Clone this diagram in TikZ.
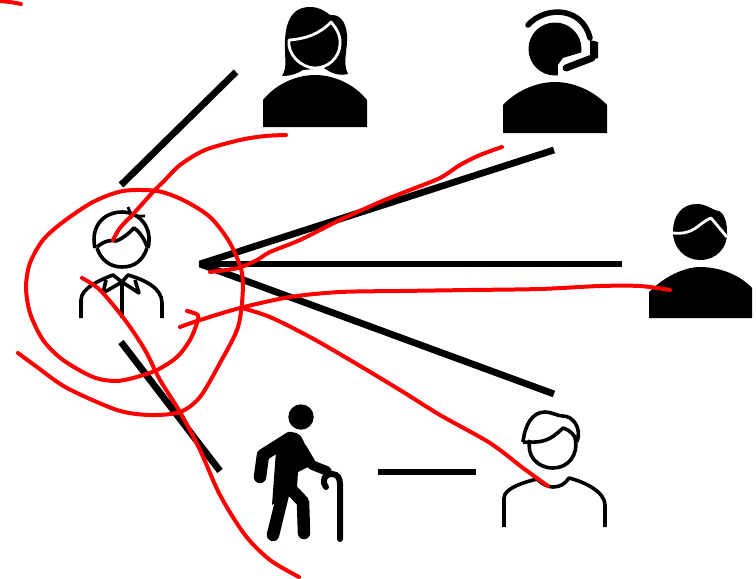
\documentclass[tikz,border=0pt]{standalone}
\usetikzlibrary{calc}
\definecolor{ScribbleClr}{rgb}{1,0,0}
\tikzset{
  spoke/.style={line width=6.8pt,color=black},
  outline/.style={line width=3.6pt,color=black,line cap=butt,line join=round},
  scribble/.style={line width=4pt,color=ScribbleClr,line cap=round,line join=round},
  cutline/.style={line width=2.8pt,color=white,line join=round}
}

\begin{document}
\begin{tikzpicture}[x=1pt,y=-1pt]
\useasboundingbox (0,0) rectangle (756,579);

% Define the free ends of the black lines.
\coordinate (Hub) at (200,264);
\coordinate (Sa) at (554,150);
\coordinate (Sb) at (622,264);
\coordinate (Sc) at (554,394);
\coordinate (Ta) at (121,185);
\coordinate (Tb) at (236,72);
\coordinate (Ua) at (121,342);
\coordinate (Ub) at (220,471);
\coordinate (Va) at (378,472);
\coordinate (Vb) at (476,472);

% Draw the black lines.
\draw[spoke,line join=bevel] (Sa) -- (Hub) -- (Sc);
\draw[spoke] (Hub) -- (Sb);
\draw[spoke] (Ta) -- (Tb);
\draw[spoke] (Ua) -- (Ub);
\draw[spoke] (Va) -- (Vb);

% The woman.
\fill (263,127) -- (263,100) .. controls (275,85) and (295,75) .. (315,75) .. controls (335,75) and (355,85) .. (367,100) -- (367,127) -- cycle;
\fill (282,76) .. controls (287,68) and (285,60) .. (285,50) .. controls (284,25) and (290,7) .. (310,7) .. controls (318,7) and (324,10) .. (330,15) .. controls (340,14) and (346,22) .. (347,35) .. controls (348,50) and (342,62) .. (348,74) .. controls (340,76) and (332,74) .. (324,68) -- (303,70) .. controls (297,74) and (290,76) .. (282,76) -- cycle;
\draw[cutline,fill=black] (289,40) .. controls (305,39) and (320,34) .. (331,22) .. controls (336,28) and (341,35) .. (340,45) .. controls (339,58) and (328,68) .. (315,68) .. controls (301,68) and (287,54) .. (289,40) -- cycle;

% The man with the headset.
\fill (503,133) -- (503,105) .. controls (515,92) and (535,82) .. (555,82) .. controls (575,82) and (595,92) .. (607,105) -- (607,133) -- cycle;
\fill (555,49) circle (26.5);
\fill[white] (583,52) -- (563,58) -- (558,65) -- (558,79) -- (600,79) -- (600,52) -- cycle;
\draw[line width=5.5pt,line cap=round] (528,25) .. controls (545,6) and (582,6) .. (590,38);
\fill (590,40) -- (598,42) -- (598,58) -- (590,60) -- cycle;
\draw[line width=7pt,line cap=round] (592,58) -- (566,68);

% The man on the right.
\fill (649,318) -- (649,292) .. controls (665,276) and (685,267) .. (700,267) .. controls (720,267) and (740,275) .. (752,288) -- (752,318) -- cycle;
\fill (673,232) .. controls (673,215) and (682,204) .. (697,204) .. controls (705,204) and (710,208) .. (715,210) .. controls (722,210) and (727,218) .. (727,232) .. controls (728,248) and (716,260) .. (700,260) .. controls (685,260) and (673,248) .. (673,232) -- cycle;
\draw[cutline] (673,233) .. controls (695,235) and (697,224) .. (711,218) -- (727,237);

% The old man with the cane.
\fill (301,417) circle (12.7);
\fill (276,451) -- (289,433) .. controls (294,431) and (300,433) .. (303,440) -- (314,464) -- (298,472) -- (297,488) -- (272,505) -- cycle;
\draw[line width=12.5pt,line cap=round,line join=round] (290,438) -- (263,455) -- (260,477);
\draw[line width=12.5pt,line cap=round,line join=round] (284,490) -- (273,535);
\draw[line width=12.5pt,line cap=round,line join=round] (287,485) -- (303,502) -- (304,533);
\draw[line width=9.5pt,line cap=round,line join=round] (302,448) -- (312,465) -- (327,471);
\draw[line width=6pt,line cap=round] (326,487) .. controls (321,480) and (325,474) .. (332,474) .. controls (338,474) and (340,479) .. (340,484) -- (340,539);

% The man with the collar.
\draw[outline] (97,248) .. controls (101,260) and (110,267) .. (122,267) .. controls (135,267) and (143,260) .. (147,248);
\draw[outline] (95,248) .. controls (90,225) and (105,212) .. (122,212) .. controls (140,212) and (153,228) .. (148,248);
\draw[outline] (97,247) .. controls (105,240) and (112,240) .. (116,241) .. controls (124,238) and (129,233) .. (134,228) .. controls (140,232) and (145,240) .. (147,247);
\draw[outline,line width=2.8pt] (128,207) -- (132,217) (145,216) -- (135,216) (132,217) -- (125,221);
\draw[outline] (81,318) -- (81,300) .. controls (81,288) and (100,280) .. (113,275) -- (122,282) -- (128,275) .. controls (145,280) and (162,288) .. (162,303) -- (162,318);
\draw[outline] (106,280) -- (103,293) -- (122,282) -- (139,293) -- (135,280);
\draw[outline] (122,282) -- (122,318);

% The man at the bottom.
\draw[outline] (530,440) .. controls (526,455) and (537,468) .. (553,468) .. controls (568,468) and (579,455) .. (575,438);
\draw[outline] (523,442) .. controls (525,425) and (532,412) .. (545,412) .. controls (552,412) and (557,416) .. (563,416) .. controls (573,416) and (582,428) .. (577,442);
\draw[outline] (523,442) .. controls (545,443) and (550,440) .. (563,428) .. controls (570,430) and (575,435) .. (577,442);
\draw[outline] (504,527) -- (504,498) .. controls (504,488) and (525,482) .. (537,479) .. controls (542,484) and (548,487) .. (553,487) .. controls (560,487) and (565,484) .. (569,478) .. controls (585,482) and (605,492) .. (605,505) -- (605,527);

% Draw the red strokes.
\draw[scribble] plot[smooth,tension=.5] coordinates {(0,1) (10,2) (21,4)};
\draw[scribble] plot[smooth,tension=.5] coordinates {(286,135) (265,136) (240,140) (205,150) (180,165) (165,180) (153,192) (135,212) (120,228) (113,240)};
\draw[scribble] plot[smooth,tension=.5] coordinates {(502,147) (480,155) (460,165) (440,178) (410,190) (380,202) (340,220) (300,240) (270,252) (257,260) (238,268) (210,272)};
\draw[scribble] plot[smooth,tension=.5] coordinates {(187,311) (198,315) (197,323) (190,340) (177,357) (157,370) (133,378) (115,381) (93,377) (63,360) (43,340) (30,313) (26,287) (30,263) (43,240) (63,222) (93,202) (123,191) (157,191) (183,200) (210,217) (230,243) (242,273) (242,303) (237,330) (220,363) (200,397) (180,412) (150,415) (117,410) (67,388) (37,367) (18,353)};
\draw[scribble] plot[smooth,tension=.5] coordinates {(670,290) (640,286) (600,286) (540,289) (470,290) (400,291) (340,292) (290,297) (240,308) (200,320) (180,327)};
\draw[scribble] plot[smooth,tension=.5] coordinates {(242,308) (270,317) (310,337) (350,360) (400,390) (440,415) (490,443) (523,468) (548,486)};
\draw[scribble] plot[smooth,tension=.5] coordinates {(82,278) (100,290) (125,320) (145,350) (160,380) (180,412) (200,450) (220,495) (245,535) (270,560) (299,577)};

\end{tikzpicture}
\end{document}
